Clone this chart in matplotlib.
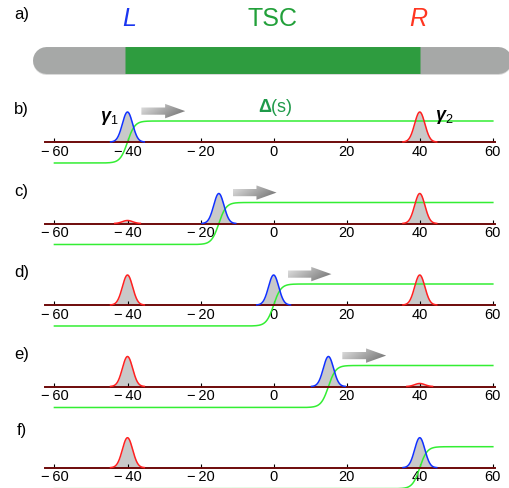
import matplotlib
matplotlib.use("Agg")
import matplotlib.pyplot as plt
import numpy as np
from matplotlib.patches import FancyArrow

plt.rcParams['font.family'] = ['Liberation Sans', 'DejaVu Sans']
plt.rcParams['mathtext.fontset'] = 'custom'
plt.rcParams['mathtext.rm'] = 'Liberation Sans'
plt.rcParams['mathtext.it'] = 'Liberation Sans:italic'
plt.rcParams['mathtext.bf'] = 'Liberation Sans:bold'
plt.rcParams['mathtext.bfit'] = 'Liberation Sans:italic:bold'

# datos de los paneles b) - f)
etiquetas = ["b)", "c)", "d)", "e)", "f)"]
pos_azul = [-40, -15, 0, 15, 40]          # posicion del majorana movil (gamma1)
amp_rojo_izq = [0.0, 0.1, 1.0, 1.0, 1.0]  # pico rojo en -40
amp_rojo_der = [1.0, 1.0, 1.0, 0.1, 0.0]  # pico rojo en +40
pos_rojo = [-40, 40]
con_flecha = [True, True, True, True, False]
ticks = [-60, -40, -20, 0, 20, 40, 60]
tick_txt = ["\u2212\u200960", "\u2212\u200940", "\u2212\u200920", "0", "20", "40", "60"]

# panel a)
hilo = [-62.3, 61.4]
tsc = [-40.6, 40.1]

sigma = 1.4
ancho = 2.0
amp_delta = 0.7

x = np.linspace(-60, 60, 2001)

def gauss(x0, a):
    return a * np.exp(-(x - x0) ** 2 / (2 * sigma ** 2))

fig = plt.figure(figsize=(5.1, 4.88), dpi=100)
W, H = 510.0, 488.0
xlim = (-74.9, 64.7)

# ---- panel a ----
axa = fig.add_axes([0, 1 - 90 / H, 1, 90 / H])
axa.set_xlim(xlim)
axa.set_ylim(90, 0)
axa.axis('off')
axa.plot(hilo, [61, 61], color='#d8d8d8', lw=19.4, solid_capstyle='round')
axa.plot(hilo, [60, 60], color='#a6a8a7', lw=19.4, solid_capstyle='round')
axa.plot(tsc, [60, 60], color='#2e9c3f', lw=19.4, solid_capstyle='butt')
axa.text(-69, 14, "a)", fontsize=12, ha='center', va='center')
axa.text(-39.5, 19, "L", fontsize=18, color='#1a35f0', style='italic', ha='center', va='center')
axa.text(-0.4, 19, "TSC", fontsize=18, color='#22a03a', ha='center', va='center')
axa.text(39.5, 19, "R", fontsize=18, color='#ff3520', style='italic', ha='center', va='center')

def flecha(ax, x0, y0, largo):
    fl = FancyArrow(x0, y0, largo, 0, width=0.24, head_width=0.48, head_length=5.5,
                    length_includes_head=True, transform=ax.transData,
                    facecolor='none', edgecolor='none')
    ax.add_patch(fl)
    gx = np.linspace(0.82, 0.5, 60)
    gy = np.linspace(-0.08, 0.08, 20)[:, None]
    grad = gx[None, :] + gy
    im = ax.imshow(grad, cmap='gray', vmin=0, vmax=1, aspect='auto',
                   extent=(x0, x0 + largo, y0 - 0.26, y0 + 0.26), origin='lower',
                   zorder=4)
    im.set_clip_path(fl)

bases = [142, 223.5, 305, 386.5, 467.7]
for i in range(5):
    b = bases[i]
    ax = fig.add_axes([0, 1 - (b + 30) / H, 1, 72 / H])
    ax.set_xlim(xlim)
    ax.set_ylim(-1.0, 1.4)
    for s in ['top', 'right', 'left']:
        ax.spines[s].set_visible(False)
    ax.spines['bottom'].set_position(('data', 0))
    ax.spines['bottom'].set_bounds(-62.5, 60.5)
    ax.spines['bottom'].set_color('#6e0a0a')
    ax.spines['bottom'].set_linewidth(1.4)
    ax.set_yticks([])
    ax.set_xticks(ticks)
    ax.set_xticklabels(tick_txt)
    ax.tick_params(axis='x', direction='in', length=3, width=0.8, pad=2, labelsize=10.5)
    ax.patch.set_visible(False)

    curvas = [(gauss(pos_azul[i], 1.0), '#1030ff'),
              (gauss(pos_rojo[0], amp_rojo_izq[i]), '#ff2020'),
              (gauss(pos_rojo[1], amp_rojo_der[i]), '#ff2020')]
    for g, c in curvas:
        if g.max() <= 0:
            continue
        m = g > 0.004
        ax.fill_between(x[m], 0, g[m], color='#c9c9c9', lw=0, zorder=1)
        ax.plot(x[m], g[m], color=c, lw=1.1, zorder=3)

    delta = amp_delta * np.tanh((x - pos_azul[i]) / ancho)
    ax.plot(x, delta, color='#33ee33', lw=1.1, zorder=2)

    if con_flecha[i]:
        flecha(ax, pos_azul[i] + 3.8, 1.03, 12.0)

    ax.text(-69, 1.07 if i < 4 else 1.23, etiquetas[i],
            fontsize=12, ha='center', va='center')

    if i == 0:
        ax.text(-45, 0.8, r'$\boldsymbol{\gamma}_1$', fontsize=13, ha='center', va='center')
        ax.text(46.8, 0.85, r'$\boldsymbol{\gamma}_2$', fontsize=13, ha='center', va='center')
        ax.text(0.5, 1.15, r'$\mathbf{\Delta}$(s)', fontsize=13, color='#1f9a4a',
                ha='center', va='center')
    ax.set_xlim(xlim)
    ax.set_ylim(-1.0, 1.4)

fig.savefig("out.png", dpi=100)
